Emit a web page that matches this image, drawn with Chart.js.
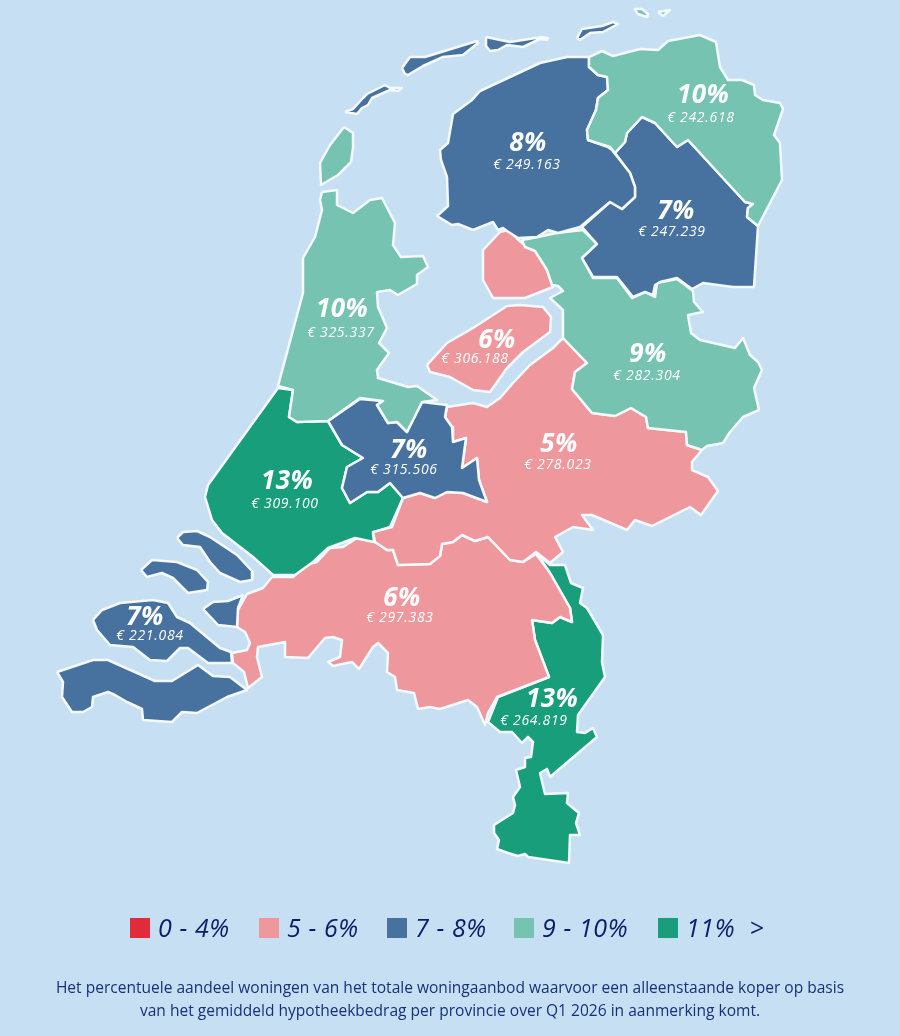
<!DOCTYPE html>
<html lang="nl">
<head>
<meta charset="utf-8">
<title>Betaalbaar woningaanbod per provincie</title>
<script src="https://cdn.jsdelivr.net/npm/chart.js@4"></script>
<style>
    html, body { margin: 0; padding: 0; background: #c7dff3; }
    #wrap { position: relative; width: 900px; height: 1036px; overflow: hidden; }
    #map { position: absolute; left: 0; top: 0; }
    .key { position: absolute; top: 918px; height: 20px; }
    .key i { position: absolute; left: 0; top: 0; width: 20px; height: 20px; }
    .key span { position: absolute; left: 28px; top: -8px; white-space: pre; letter-spacing: 0.6px; font: italic 500 25px "Open Sans", sans-serif; color: #0c1d68; }
    #note { position: absolute; left: 0; top: 976px; width: 900px; text-align: center; font: 15.55px/22.5px "Open Sans", sans-serif; color: #17307a; }
</style>
</head>
<body>
<div id="wrap">
    <canvas id="map" width="900" height="1036"></canvas>
    <div id="legend"></div>
    <div id="note">Het percentuele aandeel woningen van het totale woningaanbod waarvoor een alleenstaande koper op basis<br>van het gemiddeld hypotheekbedrag per provincie over Q1 2026 in aanmerking komt.</div>
</div>
<script>
// --- DATA ---
const provinces = ['Groningen', 'Friesland', 'Drenthe', 'Overijssel', 'Flevoland', 'Noord-Holland', 'Utrecht', 'Gelderland', 'Zuid-Holland', 'Zeeland', 'Noord-Brabant', 'Limburg'];
const sharePct = [10, 8, 7, 9, 6, 10, 7, 5, 13, 7, 6, 13];
const avgMortgage = ['242.618', '249.163', '247.239', '282.304', '306.188', '325.337', '315.506', '278.023', '309.100', '221.084', '297.383', '264.819'];

const legendLabels = ['0 - 4%', '5 - 6%', '7 - 8%', '9 - 10%', '11%  >'];
const legendUpper = [4, 6, 8, 10, Infinity];
const legendColors = ['#e02b3a', '#ee989d', '#47719e', '#75c3b0', '#199e7c'];
const legendLeft = [130, 259, 387, 514, 658];

// map outlines, per province, in map units (x, y)
const groningen = [[[589,57],[602,51],[613,56],[640,49],[658,50],[668,41],[700,35],[716,42],[720,67],[728,80],[742,80],[754,85],[755,95],[763,100],[780,103],[783,109],[774,135],[780,143],[782,180],[758,226],[747,217],[748,208],[753,204],[745,202],[688,140],[677,147],[655,123],[642,117],[627,133],[625,142],[615,153],[610,147],[588,140],[587,130],[596,110],[598,98],[608,90],[607,77],[598,75],[589,67]],
    [[634,9],[642,9],[648,14],[647,17],[638,14]],
    [[658,12],[670,10],[663,16]]];
const friesland = [[[589,57],[567,57],[540,63],[480,91],[472,100],[453,114],[448,143],[440,150],[441,160],[447,177],[448,206],[437,216],[452,225],[458,224],[473,230],[493,222],[498,230],[503,228],[507,231],[518,238],[537,237],[548,230],[558,233],[580,227],[610,202],[622,209],[635,197],[635,187],[630,173],[612,150],[608,147],[588,140],[587,130],[596,110],[598,98],[608,90],[607,77],[598,75],[589,67]],
    [[345,112],[353,109],[363,98],[367,94],[385,85],[390,88],[402,88],[398,91],[390,90],[372,98],[368,105],[362,108],[357,114]],
    [[402,68],[410,57],[425,57],[477,41],[478,43],[463,55],[443,57],[423,66],[408,75],[405,74]],
    [[486,37],[510,42],[542,37],[548,38],[547,40],[540,39],[523,47],[507,45],[498,50],[490,51],[486,46]],
    [[577,38],[582,29],[602,26],[613,22],[618,24],[603,32],[590,33],[580,40]]];
const drenthe = [[[642,117],[655,123],[677,147],[688,140],[745,202],[753,204],[748,208],[747,217],[758,226],[754,287],[733,287],[703,283],[692,289],[677,278],[660,282],[655,285],[653,295],[645,292],[633,297],[617,277],[593,277],[582,258],[597,244],[582,227],[610,202],[622,209],[635,197],[635,187],[630,173],[615,153],[625,142],[627,133]]];
const overijssel = [[[522,240],[538,237],[557,233],[583,230],[597,244],[582,258],[593,278],[617,278],[632,298],[645,292],[655,297],[657,283],[677,279],[693,291],[694,302],[703,312],[688,315],[691,333],[700,340],[735,348],[743,338],[750,355],[758,362],[762,370],[754,388],[759,410],[743,417],[730,432],[723,443],[707,446],[702,450],[687,445],[686,432],[648,428],[646,417],[631,408],[615,416],[592,413],[572,389],[575,372],[587,363],[563,338],[563,310],[550,298],[563,291],[558,286],[552,285],[547,270],[535,251],[525,247]]];
const flevoland = [[[500,232],[508,230],[522,243],[537,250],[547,270],[553,287],[525,298],[493,298],[483,280],[483,250]],
    [[427,365],[447,343],[473,328],[507,306],[520,305],[543,307],[551,317],[550,332],[523,352],[507,368],[490,392],[473,390],[450,377],[430,372]]];
const noordHolland = [[[322,192],[337,190],[337,205],[353,213],[370,200],[382,198],[395,223],[393,245],[401,257],[423,256],[428,267],[417,275],[417,284],[398,295],[390,290],[377,292],[378,307],[387,328],[379,343],[389,353],[377,370],[378,378],[408,387],[417,386],[437,400],[422,402],[407,432],[397,422],[388,423],[377,405],[383,401],[360,398],[328,421],[297,422],[289,417],[293,390],[278,386],[303,293],[303,258],[315,237],[322,210],[320,200]],
    [[344,127],[353,133],[353,148],[351,162],[338,175],[321,185],[320,163],[330,145]]];
const utrecht = [[[328,421],[360,399],[383,401],[377,405],[388,423],[397,422],[407,432],[422,402],[447,405],[445,417],[452,427],[453,442],[466,438],[462,468],[477,458],[479,480],[487,502],[463,493],[447,492],[435,498],[420,493],[403,498],[390,483],[378,492],[367,492],[350,503],[342,488],[347,467],[363,458],[342,445]]];
const gelderland = [[[563,338],[587,363],[575,372],[572,389],[592,413],[615,416],[631,408],[646,417],[648,428],[686,432],[687,445],[702,450],[692,462],[692,470],[708,477],[718,491],[701,515],[690,507],[652,526],[635,520],[627,530],[592,515],[582,515],[593,530],[573,527],[555,537],[563,552],[550,563],[536,552],[523,562],[510,560],[488,537],[475,541],[462,535],[453,542],[442,544],[440,556],[430,564],[398,565],[393,550],[387,550],[375,542],[373,532],[392,527],[403,498],[420,493],[435,498],[447,492],[463,493],[487,502],[479,480],[477,458],[462,468],[466,438],[453,442],[452,427],[445,417],[447,407],[473,403],[487,407],[500,398],[513,383],[530,365],[553,348]]];
const zuidHolland = [[[278,388],[293,390],[289,417],[297,422],[328,421],[342,445],[363,458],[347,467],[342,488],[350,503],[367,492],[378,492],[390,483],[403,498],[390,527],[373,533],[374,542],[355,538],[328,548],[313,562],[295,575],[273,575],[253,557],[222,533],[212,520],[205,497],[208,485]]];
const zeeland = [[[177,538],[183,532],[197,531],[210,537],[237,555],[253,572],[252,580],[240,582],[220,573],[210,562],[200,547],[183,545]],
    [[141,570],[152,560],[177,562],[197,570],[208,582],[207,590],[188,593],[173,578],[162,573],[147,577]],
    [[203,609],[213,602],[228,601],[243,595],[238,608],[237,627],[218,625]],
    [[93,620],[102,610],[120,603],[153,600],[168,603],[177,617],[190,623],[220,648],[231,652],[232,663],[208,663],[188,648],[180,648],[167,661],[150,660],[133,647],[110,645],[97,630]],
    [[57,672],[93,660],[108,660],[155,681],[172,681],[198,665],[213,676],[230,677],[247,690],[227,697],[197,713],[182,712],[172,722],[143,720],[142,709],[127,702],[115,695],[108,692],[93,697],[92,707],[83,712],[72,712],[62,697],[63,682]]];
const noordBrabant = [[[272,577],[293,577],[305,565],[317,562],[330,548],[343,547],[357,538],[375,542],[387,550],[393,550],[398,565],[430,564],[440,556],[442,544],[453,542],[462,535],[475,541],[488,537],[510,560],[523,562],[536,554],[550,573],[570,608],[572,622],[560,617],[552,623],[532,620],[535,640],[549,677],[497,697],[488,713],[485,725],[477,707],[468,700],[440,709],[430,707],[418,709],[414,693],[397,690],[395,677],[387,672],[388,653],[378,643],[373,647],[359,669],[352,662],[333,666],[328,662],[340,657],[342,640],[333,637],[325,638],[308,658],[285,657],[285,642],[258,647],[257,657],[262,677],[248,688],[244,672],[233,663],[232,653],[247,650],[250,643],[245,632],[237,627],[238,610],[247,594],[263,588]]];
const limburg = [[[536,552],[550,565],[565,565],[571,583],[583,588],[580,603],[587,608],[603,635],[602,662],[605,677],[578,715],[577,732],[585,733],[593,728],[597,737],[550,777],[547,769],[540,773],[545,794],[568,793],[567,803],[579,813],[576,823],[580,835],[570,835],[569,863],[528,857],[525,854],[518,856],[508,853],[497,849],[499,840],[494,833],[494,825],[513,813],[515,805],[513,797],[520,787],[516,770],[525,767],[525,758],[531,757],[533,742],[528,737],[522,743],[512,732],[500,732],[488,722],[498,697],[549,677],[535,640],[532,620],[552,623],[560,617],[572,622],[570,608],[550,573]]];
const outlines = [groningen, friesland, drenthe, overijssel, flevoland, noordHolland, utrecht, gelderland, zuidHolland, zeeland, noordBrabant, limburg];

// where the two text lines of each province sit on the map
const pctAnchors = [[703,96],[528,144],[676,212],[648,355],[497,341],[342,310],[409,451],[559,445],[287,482],[145,618],[402,599],[552,700]];
const priceAnchors = [[701,118],[527,165],[672,232],[647,376],[475,359],[341,333],[404,470],[558,465],[285,504],[150,636],[400,618],[534,721]];

function colorFor(pct) {
    return legendColors[legendUpper.findIndex(u => pct <= u)];
}

// every part of a province is its own closed shape
const datasets = [];
outlines.forEach((parts, i) => {
    parts.forEach(part => {
        const pts = part.concat([part[0]]).map(p => ({ x: p[0], y: p[1] }));
        datasets.push({
            label: provinces[i],
            data: pts,
            showLine: true,
            fill: 'shape',
            backgroundColor: colorFor(sharePct[i]),
            borderColor: '#f4f9fc',
            borderWidth: 2.5,
            borderJoinStyle: 'round',
            pointRadius: 0,
            tension: 0
        });
    });
});

// tekst op de provincies
const provinceLabels = {
    id: 'provinceLabels',
    afterDatasetsDraw(chart) {
        const ctx = chart.ctx;
        const sx = chart.scales.x, sy = chart.scales.y;
        ctx.save();
        ctx.fillStyle = '#ffffff';
        ctx.textAlign = 'center';
        ctx.textBaseline = 'middle';
        provinces.forEach((name, i) => {
            ctx.font = 'italic 700 26px "Open Sans", sans-serif';
            ctx.letterSpacing = '0.4px';
            ctx.fillText(sharePct[i] + '%', sx.getPixelForValue(pctAnchors[i][0]), sy.getPixelForValue(pctAnchors[i][1]));
            ctx.font = 'italic 400 14px "Open Sans", sans-serif';
            ctx.letterSpacing = '0.7px';
            ctx.fillText('€ ' + avgMortgage[i], sx.getPixelForValue(priceAnchors[i][0]), sy.getPixelForValue(priceAnchors[i][1]));
        });
        ctx.restore();
    }
};

new Chart(document.getElementById('map').getContext('2d'), {
    type: 'scatter',
    data: { datasets: datasets },
    options: {
        responsive: false,
        animation: false,
        devicePixelRatio: 1,
        layout: { padding: 0 },
        clip: false,
        events: [],
        plugins: { legend: { display: false }, tooltip: { enabled: false } },
        scales: {
            x: { type: 'linear', min: 0, max: 900, display: false },
            y: { type: 'linear', min: 0, max: 1036, reverse: true, display: false }
        }
    },
    plugins: [provinceLabels]
});

// legenda onder de kaart
const legendBox = document.getElementById('legend');
legendLabels.forEach((txt, i) => {
    const item = document.createElement('div');
    item.className = 'key';
    item.style.left = legendLeft[i] + 'px';
    item.innerHTML = `<i style="background:${legendColors[i]}"></i><span>${txt}</span>`;
    legendBox.appendChild(item);
});
</script>
</body>
</html>
